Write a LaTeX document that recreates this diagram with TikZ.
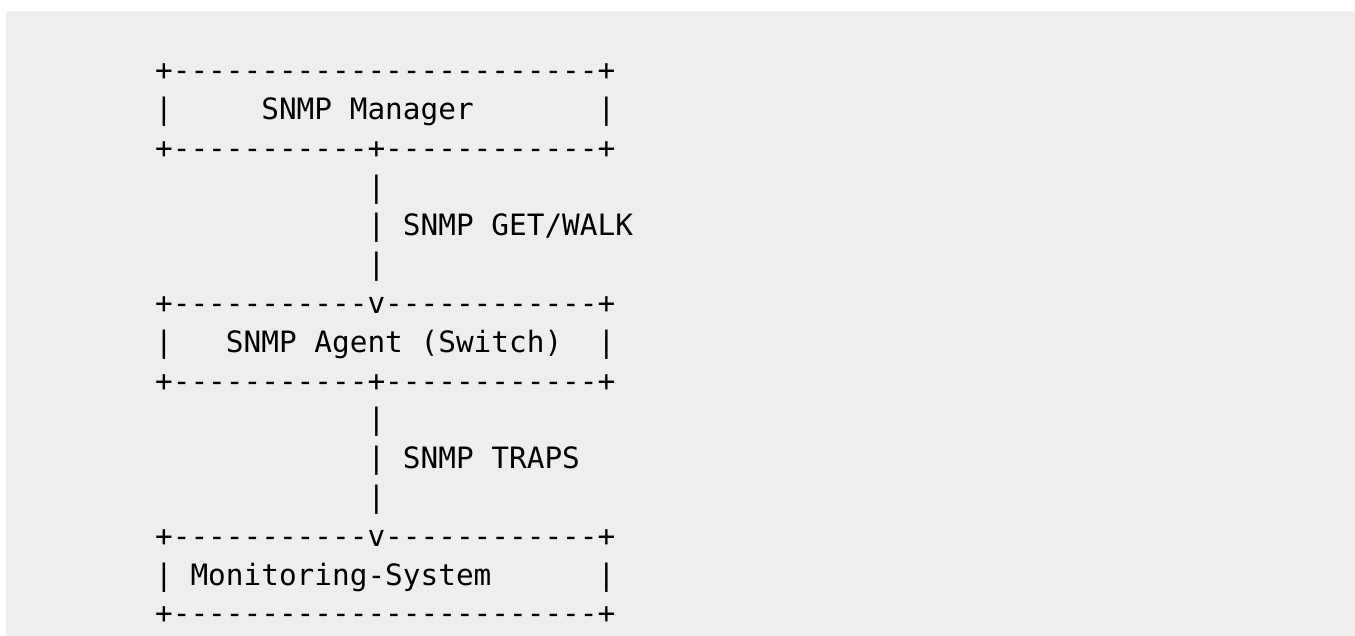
\documentclass[tikz,border=0pt]{standalone}
\usepackage{fontspec}
\setmonofont{DejaVu Sans Mono}
\definecolor{pagegray}{RGB}{238,238,238}
\definecolor{inkblack}{RGB}{0,0,0}

\begin{document}
\begin{tikzpicture}[x=17.7pt,y=-38.8pt,
    ascii/.style={anchor=base west,inner sep=0pt,outer sep=0pt,text=inkblack,
      font=\ttfamily\fontsize{29.4pt}{38.8pt}\selectfont}]

    % page and background
    \useasboundingbox (-155.15pt,80.7pt) rectangle (1199.85pt,-555.3pt);
    \fill[white] (-155.15pt,80.7pt) rectangle (1199.85pt,-555.3pt);
    \fill[pagegray] (-149.15pt,69.7pt) rectangle (1199.85pt,-555.3pt);

    % manager box
    \node[ascii] (mgrtop) at (0,0) {+------------------------+};
    \node[ascii] (mgrmid) at (0,1) {|~~~~~SNMP Manager~~~~~~~|};
    \node[ascii] (mgrbot) at (0,2) {+-----------+------------+};

    % get/walk link
    \node[ascii] (getbarA) at (12,3) {|};
    \node[ascii] (getlabel) at (12,4) {| SNMP GET/WALK};
    \node[ascii] (getbarB) at (12,5) {|};

    % agent box
    \node[ascii] (agttop) at (0,6) {+-----------v------------+};
    \node[ascii] (agtmid) at (0,7) {|~~~SNMP Agent (Switch)~~|};
    \node[ascii] (agtbot) at (0,8) {+-----------+------------+};

    % traps link
    \node[ascii] (trpbarA) at (12,9) {|};
    \node[ascii] (trplabel) at (12,10) {| SNMP TRAPS};
    \node[ascii] (trpbarB) at (12,11) {|};

    % monitoring box
    \node[ascii] (montop) at (0,12) {+-----------v------------+};
    \node[ascii] (monmid) at (0,13) {|~Monitoring-System~~~~~~|};
    \node[ascii] (monbot) at (0,14) {+------------------------+};
\end{tikzpicture}
\end{document}
